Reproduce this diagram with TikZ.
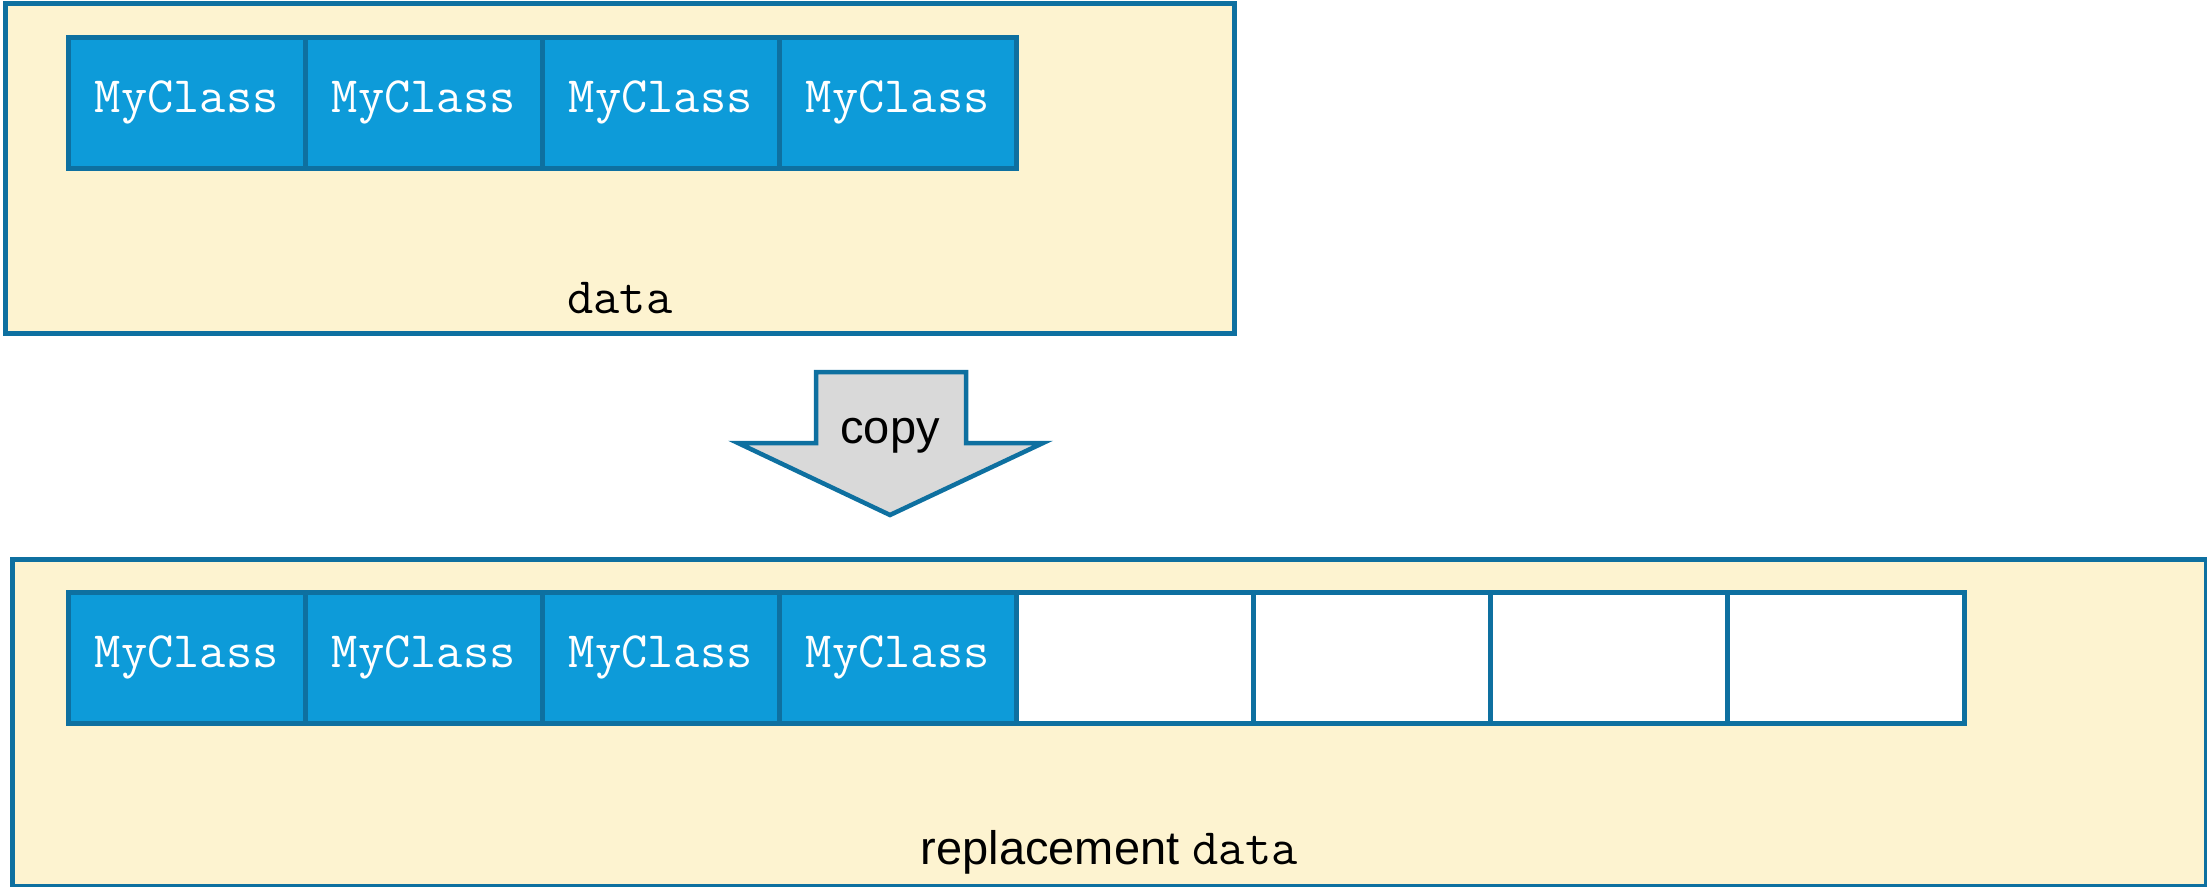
\documentclass[tikz,border=0pt]{standalone}
\usepackage{fontspec}
\setmainfont{Liberation Sans}
\usetikzlibrary{positioning}
\definecolor{edgeblue}{RGB}{14,112,160}
\definecolor{cellblue}{RGB}{13,155,217}
\definecolor{boxfill}{RGB}{253,243,208}
\definecolor{arrowgray}{RGB}{217,217,217}
\tikzstyle{container} = [rectangle, draw=edgeblue, fill=boxfill, line width=4.5pt, anchor=north west, inner sep=0pt]
\tikzstyle{cell} = [rectangle, draw=edgeblue, fill=cellblue, line width=4.5pt, minimum width=237pt, minimum height=131pt, inner sep=0pt, anchor=north west, text=white, font=\fontsize{51}{60}\selectfont\ttfamily]
\tikzstyle{emptycell} = [cell, fill=white]
\tikzstyle{caption} = [font=\fontsize{47}{56}\selectfont, inner sep=0pt]
\tikzstyle{codeword} = [font=\fontsize{51}{60}\selectfont\ttfamily]
\tikzstyle{bigarrow} = [draw=edgeblue, fill=arrowgray, line width=4.5pt, line join=miter]

\begin{document}
\begin{tikzpicture}[x=1pt, y=-1pt]
    \useasboundingbox (0,0) rectangle (2207,886);

    % original storage
    \node[container, minimum width=1229pt, minimum height=330pt] (src) at (3,1) {};
    \foreach \i in {0,...,3}
        \node[cell] (a\i) at ({66+237*\i},35) {MyClass};
    \node[caption, above=37pt of src.south, anchor=center] (srclabel) {{\fontsize{51}{60}\selectfont\ttfamily data}};

    % copy step
    \draw[bigarrow] (816,372) -- (966,372) -- (966,443) -- (1043,443) -- (890,515)
        -- (738,443) -- (816,443) -- cycle;
    \node[caption] (copy) at (890,436) {copy};

    % bigger storage
    \node[container, minimum width=2194pt, minimum height=327pt] (dst) at (10,557) {};
    \foreach \i in {0,...,3}
        \node[cell] (b\i) at ({66+237*\i},590) {MyClass};
    \foreach \i in {4,...,7}
        \node[emptycell] (b\i) at ({66+237*\i},590) {};
    \node[caption, above=36pt of dst.south, anchor=center] (dstlabel) {replacement {\fontsize{51}{60}\selectfont\ttfamily data}};
\end{tikzpicture}
\end{document}
